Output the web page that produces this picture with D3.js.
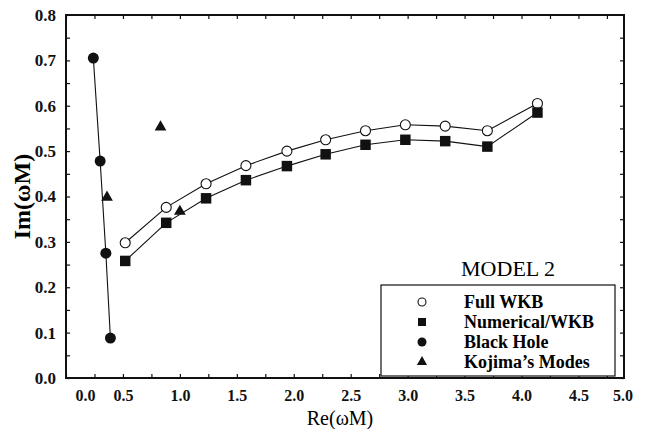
<!DOCTYPE html>
<html>
<head>
<meta charset="utf-8">
<script src="https://cdn.jsdelivr.net/npm/d3@7"></script>
<style>
  body { margin: 0; background: #fff; }
  .tick text { font-family: "Liberation Serif", serif; font-weight: bold; font-size: 17px; fill: #111; }
  .x-labels .tick text { font-size: 16px; }
  .tick line { stroke: #111; stroke-width: 1.2; }
</style>
</head>
<body>
<script>
const width = 647, height = 429;

// data: [Re(wM), Im(wM)]
const fullWKB = [[0.52, 0.298], [0.88, 0.376], [1.23, 0.428], [1.58, 0.468], [1.94, 0.500], [2.28, 0.525],
                 [2.63, 0.545], [2.98, 0.558], [3.33, 0.555], [3.70, 0.545], [4.14, 0.605]];
const numericalWKB = [[0.52, 0.258], [0.88, 0.342], [1.23, 0.396], [1.58, 0.436], [1.94, 0.467], [2.28, 0.493],
                      [2.63, 0.514], [2.98, 0.525], [3.33, 0.522], [3.70, 0.510], [4.14, 0.585]];
const blackHole = [[0.24, 0.705], [0.30, 0.478], [0.35, 0.275], [0.39, 0.088]];
const kojima = [[0.83, 0.553], [0.36, 0.398], [1.00, 0.367]];

const xTicks = [0, 0.5, 1, 1.5, 2, 2.5, 3, 3.5, 4, 4.5, 5];
const yTicks = [0, 0.1, 0.2, 0.3, 0.4, 0.5, 0.6, 0.7, 0.8];
const legendLabels = ["Full WKB", "Numerical/WKB", "Black Hole", "Kojima\u2019s Modes"];

const margin = { left: 66, right: 23, top: 15, bottom: 51 };

const svg = d3.select("body").append("svg")
    .attr("width", width)
    .attr("height", height);

const x = d3.scaleLinear().domain([0, 4.9]).range([margin.left, width - margin.right]);
const y = d3.scaleLinear().domain([0, 0.8]).range([height - margin.bottom, margin.top]);

const minorX = d3.range(0, 4.9, 0.25);
const minorY = d3.range(0, 0.8, 0.05);

// minor ticks on all four sides
svg.append("g").attr("transform", `translate(0,${y(0)})`)
    .call(d3.axisBottom(x).tickValues(minorX).tickSize(-4).tickFormat(""))
    .call(g => g.select(".domain").remove());
svg.append("g").attr("transform", `translate(0,${y(0.8)})`)
    .call(d3.axisTop(x).tickValues(minorX).tickSize(-4).tickFormat(""))
    .call(g => g.select(".domain").remove());
svg.append("g").attr("transform", `translate(${x(0)},0)`)
    .call(d3.axisLeft(y).tickValues(minorY).tickSize(-4).tickFormat(""))
    .call(g => g.select(".domain").remove());
svg.append("g").attr("transform", `translate(${x(4.9)},0)`)
    .call(d3.axisRight(y).tickValues(minorY).tickSize(-4).tickFormat(""))
    .call(g => g.select(".domain").remove());

// labelled axes
const xAxis = svg.append("g").attr("class", "x-labels").attr("transform", `translate(0,${y(0)})`)
    .call(d3.axisBottom(x).tickValues(xTicks).tickSize(0).tickPadding(12).tickFormat(d3.format(".1f")))
    .call(g => g.select(".domain").remove());
xAxis.selectAll(".tick text")
    .attr("dx", d => d === 0 ? 19 : d === 5 ? -13 : 0);

svg.append("g").attr("transform", `translate(${x(0)},0)`)
    .call(d3.axisLeft(y).tickValues(yTicks).tickSize(0).tickPadding(10).tickFormat(d3.format(".1f")))
    .call(g => g.select(".domain").remove());

// legend (drawn before the frame so the axis line stays on top)
svg.append("text")
    .attr("x", 508).attr("y", 276)
    .attr("text-anchor", "middle")
    .style("font-family", "Liberation Serif, serif").style("font-size", "22px")
    .text("MODEL 2");

svg.append("rect")
    .attr("x", 381).attr("y", 285).attr("width", 234).attr("height", 91)
    .attr("fill", "#fff").attr("stroke", "#111").attr("stroke-width", 1.2);

const legend = svg.append("g");
legendLabels.forEach((label, i) => {
    const ly = 302 + i * 20;
    const g = legend.append("g").attr("transform", `translate(422,${ly})`);
    if (i === 0) g.append("circle").attr("r", 4).attr("fill", "#fff").attr("stroke", "#111").attr("stroke-width", 1.1);
    if (i === 1) g.append("path").attr("d", d3.symbol().type(d3.symbolSquare).size(64)()).attr("fill", "#111");
    if (i === 2) g.append("circle").attr("r", 4.5).attr("fill", "#111");
    if (i === 3) g.append("path").attr("d", d3.symbol().type(d3.symbolTriangle).size(45)()).attr("fill", "#111");
    g.append("text")
        .attr("x", 42).attr("dy", "0.35em")
        .style("font-family", "Liberation Serif, serif").style("font-size", "18px").style("font-weight", "bold")
        .text(label);
});

// frame
svg.append("rect")
    .attr("x", x(0)).attr("y", y(0.8))
    .attr("width", x(4.9) - x(0)).attr("height", y(0) - y(0.8))
    .attr("fill", "none").attr("stroke", "#111").attr("stroke-width", 2);

// axis titles
svg.append("text")
    .attr("x", 340).attr("y", 424.5)
    .attr("text-anchor", "middle")
    .style("font-family", "Liberation Serif, serif").style("font-size", "20px")
    .text("Re(\u03c9M)");

svg.append("text")
    .attr("transform", `translate(30,${(y(0) + y(0.8)) / 2}) rotate(-90)`)
    .attr("text-anchor", "middle")
    .style("font-family", "Liberation Serif, serif").style("font-size", "24px").style("font-weight", "bold")
    .text("Im(\u03c9M)");

// lines
const line = d3.line().x(d => x(d[0])).y(d => y(d[1]));
[fullWKB, numericalWKB, blackHole].forEach(s => {
    svg.append("path").datum(s)
        .attr("d", line)
        .attr("fill", "none").attr("stroke", "#111").attr("stroke-width", 1.1);
});

// markers
svg.selectAll(".full").data(fullWKB).enter().append("circle")
    .attr("cx", d => x(d[0])).attr("cy", d => y(d[1])).attr("r", 5)
    .attr("fill", "#fff").attr("stroke", "#111").attr("stroke-width", 1.1);
svg.selectAll(".num").data(numericalWKB).enter().append("path")
    .attr("transform", d => `translate(${x(d[0])},${y(d[1])})`)
    .attr("d", d3.symbol().type(d3.symbolSquare).size(110)()).attr("fill", "#111");
svg.selectAll(".bh").data(blackHole).enter().append("circle")
    .attr("cx", d => x(d[0])).attr("cy", d => y(d[1])).attr("r", 5.5)
    .attr("fill", "#111");
svg.selectAll(".koj").data(kojima).enter().append("path")
    .attr("transform", d => `translate(${x(d[0])},${y(d[1])})`)
    .attr("d", d3.symbol().type(d3.symbolTriangle).size(60)()).attr("fill", "#111");
</script>
</body>
</html>
